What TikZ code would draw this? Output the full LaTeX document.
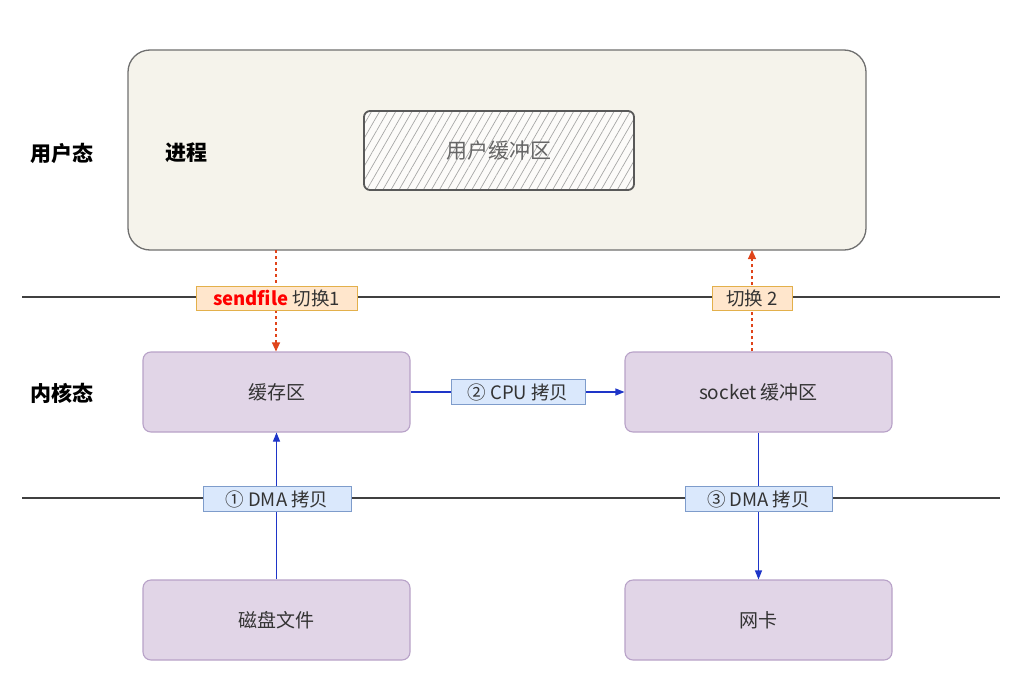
\documentclass[tikz,border=0pt]{standalone}
\usepackage{fontspec}
\setmainfont{Noto Sans CJK SC}
\usetikzlibrary{arrows.meta,patterns.meta,positioning}
\definecolor{procfill}{HTML}{F5F3EB}
\definecolor{procdraw}{HTML}{707070}
\definecolor{purfill}{HTML}{E1D5E7}
\definecolor{purdraw}{HTML}{B8A2C8}
\definecolor{orfill}{HTML}{FFE6CC}
\definecolor{ordraw}{HTML}{E3B04B}
\definecolor{blfill}{HTML}{DAE8FC}
\definecolor{bldraw}{HTML}{7E9CCB}
\definecolor{arrblue}{HTML}{1E35C8}
\definecolor{arrred}{HTML}{E0441A}
\definecolor{txt}{HTML}{333333}
\tikzset{
  procbox/.style={draw=procdraw, line width=1.3pt, fill=procfill, rounded corners=22pt},
  purbox/.style={draw=purdraw, line width=1.1pt, fill=purfill, rounded corners=8pt,
    minimum width=267pt, minimum height=80pt, inner sep=0pt, font=\fontsize{19}{22}\selectfont, text=txt},
  lbl/.style={draw=bldraw, fill=blfill, line width=0.9pt, inner sep=0pt, minimum height=25pt,
    font=\fontsize{18.5}{21}\selectfont, text=txt},
  olbl/.style={draw=ordraw, fill=orfill, line width=1pt, inner sep=0pt, minimum height=24pt,
    font=\fontsize{18.5}{21}\selectfont, text=txt},
  sep/.style={draw=black!75, line width=1.1pt},
  bluearr/.style={draw=arrblue, line width=1.1pt, -{Triangle[length=9pt,width=7pt]}},
  redarr/.style={draw=arrred, line width=1.1pt, dashed, dash pattern=on 3pt off 3pt, -{Triangle[length=9pt,width=8pt]}},
  side/.style={font=\bfseries\fontsize{21}{24}\selectfont, text=black}
}
\begin{document}
\begin{tikzpicture}[x=1pt,y=-1pt]
\useasboundingbox[fill=white] (0,0) rectangle (1024,685);
% user space
\draw[procbox] (128,50) rectangle (866,250);
\node[side] (yhl) at (62,153) {用户态};
\node[side] (proc) at (186,153) {进程};
\path[fill=white!70!procfill, rounded corners=6pt] (364,111) rectangle (634,190);
\path[pattern={Lines[angle=60, distance=7pt, line width=0.7pt]}, pattern color=black!35, rounded corners=6pt] (364,111) rectangle (634,190);
\draw[draw=black!65, line width=1.8pt, rounded corners=6pt] (364,111) rectangle (634,190);
\node[font=\fontsize{21}{24}\selectfont, text=black!60] (ubuf) at (499,151) {用户缓冲区};
\coordinate (pbl) at (276,250);
\coordinate (pbr) at (752,250);
% separators
\coordinate (s1a) at (22,297); \coordinate (s1b) at (1000,297);
\coordinate (s2a) at (22,498); \coordinate (s2b) at (1000,498);
\draw[sep] (s1a) -- (s1b);
\draw[sep] (s2a) -- (s2b);
% kernel
\node[side] (nhl) at (62,393) {内核态};
\node[purbox] (cache) at (276.5,392) {缓存区};
\node[purbox] (sock) at (758.5,392) {socket 缓冲区};
\node[purbox] (disk) at (276.5,620) {磁盘文件};
\node[purbox] (nic) at (758.5,620) {网卡};
% arrows
\draw[redarr] (pbl) -- (cache.north -| pbl);
\draw[redarr] (sock.north -| pbr) -- (pbr);
\draw[bluearr] (cache.east) -- (sock.west);
\draw[bluearr] (disk.north) -- (cache.south);
\draw[bluearr] (sock.south) -- (nic.north);
% labels
\node[olbl, minimum width=161pt] (l1) at (276.5,298) {\textcolor{red}{\bfseries sendfile} 切换1};
\node[olbl, minimum width=80pt] (l2) at (752,298) {切换 2};
\node[lbl, minimum width=134pt] (l3) at (518,392) {② CPU 拷贝};
\node[lbl, minimum width=148pt] (l4) at (277,499) {① DMA 拷贝};
\node[lbl, minimum width=147pt] (l5) at (758.5,499) {③ DMA 拷贝};
\end{tikzpicture}
\end{document}
